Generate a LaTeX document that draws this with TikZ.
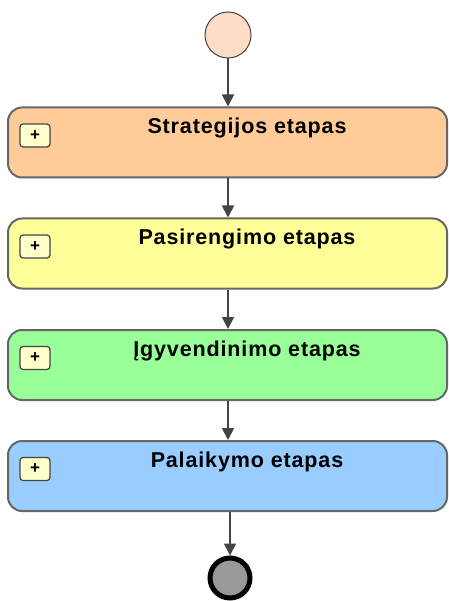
\documentclass[tikz,border=0pt]{standalone}
\usepackage{fontspec}
\setmainfont{Liberation Sans}
\newfontfamily\titlefont[LetterSpace=4]{Liberation Sans}
\usetikzlibrary{arrows.meta}
\definecolor{edge}{HTML}{666666}
\definecolor{flow}{HTML}{444444}
\definecolor{cstrat}{HTML}{FFCC99}
\definecolor{cprep}{HTML}{FFFF99}
\definecolor{cimpl}{HTML}{99FF99}
\definecolor{cmaint}{HTML}{99CCFF}
\definecolor{cstart}{HTML}{FDDCC6}
\definecolor{cplus}{HTML}{FFFFCC}
\begin{document}
\begin{tikzpicture}[x=1pt,y=-1pt,
  phase/.style={draw=edge, line width=2pt, rounded corners=14pt,
    minimum width=439pt, minimum height=70pt, inner sep=0pt},
  plusbox/.style={draw=flow, line width=1.2pt, fill=cplus, rounded corners=3pt,
    minimum width=30pt, minimum height=23pt, inner sep=0pt,
    font=\bfseries\fontsize{17}{17}\selectfont},
  title/.style={font=\titlefont\bfseries\fontsize{21.5}{22}\selectfont, inner sep=0pt, anchor=base},
  flowarrow/.style={draw=flow, line width=1.8pt,
    -{Triangle[length=12pt,width=12pt]}}]
\useasboundingbox (0,0) rectangle (448,601);
% start and end events
\node[circle, draw=flow, line width=1pt, fill=cstart, minimum size=46pt, inner sep=0pt] (start) at (228,35) {};
\node[circle, draw=black, line width=5pt, fill=gray!80, minimum size=40pt, inner sep=0pt] (end) at (230,578) {};
% phases
\node[phase, fill=cstrat] (s1) at (227.5,142.5) {};
\node[phase, fill=cprep] (s2) at (227.5,253.5) {};
\node[phase, fill=cimpl] (s3) at (227.5,365) {};
\node[phase, fill=cmaint] (s4) at (227.5,476) {};
% titles and collapse markers
\foreach \n/\t in {s1/Strategijos etapas, s2/Pasirengimo etapas, s3/Įgyvendinimo etapas, s4/Palaikymo etapas}{
  \node[title] (\n t) at ([yshift=-27pt]\n.north -| 247,0) {\t};
  \node[plusbox] (\n p) at ([xshift=28pt,yshift=7pt]\n.west) {+};
}
% sequence flow
\draw[flowarrow] (start) -- (start |- s1.north);
\draw[flowarrow] (s1.south -| start) -- (s2.north -| start);
\draw[flowarrow] (s2.south -| start) -- (s3.north -| start);
\draw[flowarrow] (s3.south -| start) -- (s4.north -| start);
\draw[flowarrow] (s4.south -| end) -- (end);
\end{tikzpicture}
\end{document}
